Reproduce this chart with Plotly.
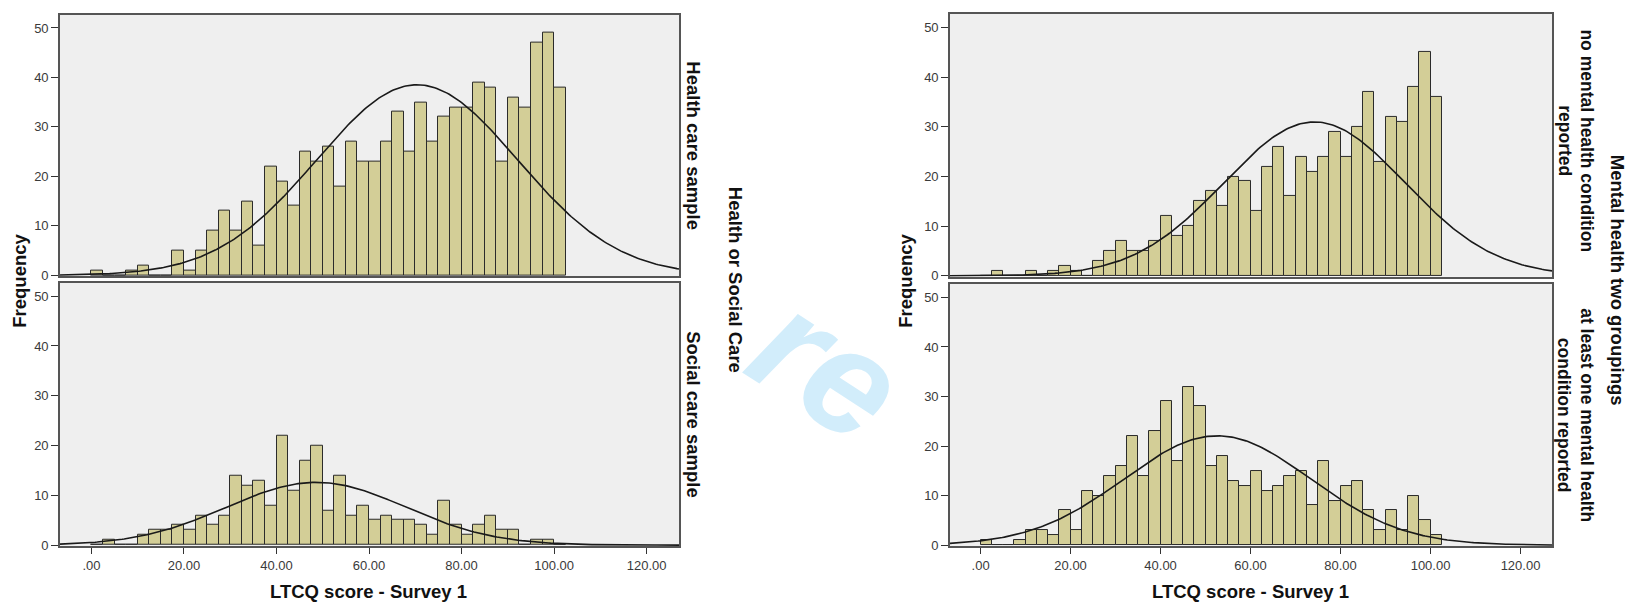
import numpy as np
import plotly.graph_objects as go

# ---- data (bins of width 2.5, left edges 0 .. 100) ----
bin_width = 2.5
bin_left = [i * 2.5 for i in range(41)]

health_care = [1, 0, 0, 1, 2, 0, 0, 5, 1, 5,
               9, 13, 9, 15, 6, 22, 19, 14, 25, 23,
               26, 18, 27, 23, 23, 27, 33, 25, 35, 27,
               32, 34, 34, 39, 38, 23, 36, 34, 47, 49,
               38]
social_care = [0, 1, 0, 0, 2, 3, 3, 4, 3, 6,
               4, 6, 14, 12, 13, 8, 22, 11, 17, 20,
               7, 14, 6, 8, 5, 6, 5, 5, 4, 2,
               9, 4, 2, 4, 6, 3, 3, 0, 1, 1,
               0]
no_mental = [0, 1, 0, 0, 1, 0, 1, 2, 1, 0,
             3, 5, 7, 5, 5, 7, 12, 8, 10, 15,
             17, 14, 20, 19, 13, 22, 26, 16, 24, 21,
             24, 29, 24, 30, 37, 23, 32, 31, 38, 45,
             36]
mental = [1, 0, 0, 1, 3, 3, 2, 7, 3, 11,
          10, 14, 16, 22, 14, 23, 29, 17, 32, 28,
          16, 18, 13, 12, 15, 11, 12, 14, 15, 8,
          17, 9, 12, 13, 7, 3, 7, 3, 10, 5,
          2]

# fitted normal curves (mean, sd)
fit_health = (70.4, 21.7)
fit_social = (48.6, 19.3)
fit_no_mental = (74.2, 20.1)
fit_mental = (52.6, 20.7)

x_ticks = [0, 20, 40, 60, 80, 100, 120]
x_tick_text = [".00", "20.00", "40.00", "60.00", "80.00", "100.00", "120.00"]
y_ticks = [0, 10, 20, 30, 40, 50]

# page is 1638x613; body margin of 8px -> figure drawn at (8, 8)
PAGE_OFF = 8
FW, FH = 1622, 597
X_RANGE = [-6.8, 127.0]
Y_RANGE = [-0.2, 52.7]

BAR_FILL = "#d3ce97"
BAR_EDGE = "#2b2b2b"
PLOT_BG = "#efefef"
FRAME = "#555555"
TICK_FONT = dict(family="Liberation Sans, Arial, sans-serif", size=13, color="#3a3a3a")
BOLD = "Liberation Sans, Arial, sans-serif"


def px_x(p):
    return (p - PAGE_OFF) / FW


def px_y(p):
    return 1 - (p - PAGE_OFF) / FH


panels = [
    (health_care, fit_health, "", (60, 679), (14.7, 279.5), False),
    (social_care, fit_social, "2", (60, 679), (286.0, 552.5), True),
    (no_mental, fit_no_mental, "3", (950, 1552), (14.0, 280.0), False),
    (mental, fit_mental, "4", (950, 1552), (287.3, 552.5), True),
]

fig = go.Figure()
centers = [b + bin_width / 2 for b in bin_left]
curve_x = np.linspace(X_RANGE[0], X_RANGE[1], 300)

for counts, (mu, sd), s, (xl, xr), (yt, yb), is_bottom in panels:
    xa = "x" + s
    ya = "y" + s
    fig.add_trace(go.Bar(
        x=centers, y=counts, width=bin_width,
        marker=dict(color=BAR_FILL, line=dict(color=BAR_EDGE, width=1)),
        xaxis=xa, yaxis=ya, showlegend=False, hoverinfo="x+y",
    ))
    n = sum(counts)
    curve_y = n * bin_width / (sd * np.sqrt(2 * np.pi)) * np.exp(-((curve_x - mu) ** 2) / (2 * sd ** 2))
    fig.add_trace(go.Scatter(
        x=curve_x, y=curve_y, mode="lines",
        line=dict(color="#1a1a1a", width=1.6),
        xaxis=xa, yaxis=ya, showlegend=False, hoverinfo="skip",
    ))
    fig.layout["xaxis" + s] = dict(
        domain=[px_x(xl), px_x(xr)], range=X_RANGE, anchor=ya,
        showgrid=False, zeroline=False,
        showline=True, mirror=True, linecolor=FRAME, linewidth=1.6,
        tickmode="array", tickvals=x_ticks, ticktext=x_tick_text,
        ticks="outside" if is_bottom else "", ticklen=6, tickcolor="#333333",
        showticklabels=is_bottom, tickfont=TICK_FONT,
    )
    fig.layout["yaxis" + s] = dict(
        domain=[px_y(yb), px_y(yt)], range=Y_RANGE, anchor=xa,
        showgrid=False, zeroline=False,
        showline=True, mirror=True, linecolor=FRAME, linewidth=1.6,
        tickmode="array", tickvals=y_ticks,
        ticks="outside", ticklen=7, tickcolor="#333333",
        tickfont=TICK_FONT,
    )

annotations = []
# watermark fragment (drawn first so labels sit on top)
annotations.append(dict(
    text="re", x=px_x(828), y=px_y(370), xref="paper", yref="paper",
    showarrow=False, textangle=33,
    font=dict(family=BOLD, size=150, color="#d2edfb", weight="bold", style="italic"),
))


def label(text, x, y, angle, size=18.5):
    annotations.append(dict(
        text=text, x=px_x(x), y=px_y(y), xref="paper", yref="paper",
        showarrow=False, textangle=angle, xanchor="center", yanchor="middle",
        font=dict(family=BOLD, size=size, color="#111111", weight="bold"),
    ))


label("Frequency", 20, 284, -90)
label("Frequency", 906, 284, -90)
label("LTCQ score - Survey 1", 368, 598, 0)
label("LTCQ score - Survey 1", 1250, 598, 0)
label("Health care sample", 694, 147, 90)
label("Social care sample", 694, 419, 90)
label("Health or Social Care", 735, 283, 90)
label("no mental health condition<br>reported", 1576, 142, 90, 17.5)
label("at least one mental health<br>condition reported", 1576, 420, 90, 17.5)
label("Mental health two groupings", 1617, 283, 90)

fig.update_layout(
    width=FW, height=FH, autosize=False,
    margin=dict(l=0, r=0, t=0, b=0),
    paper_bgcolor="white", plot_bgcolor=PLOT_BG,
    bargap=0, annotations=annotations,
    font=dict(family=BOLD),
)

fig.write_html("out.html")
